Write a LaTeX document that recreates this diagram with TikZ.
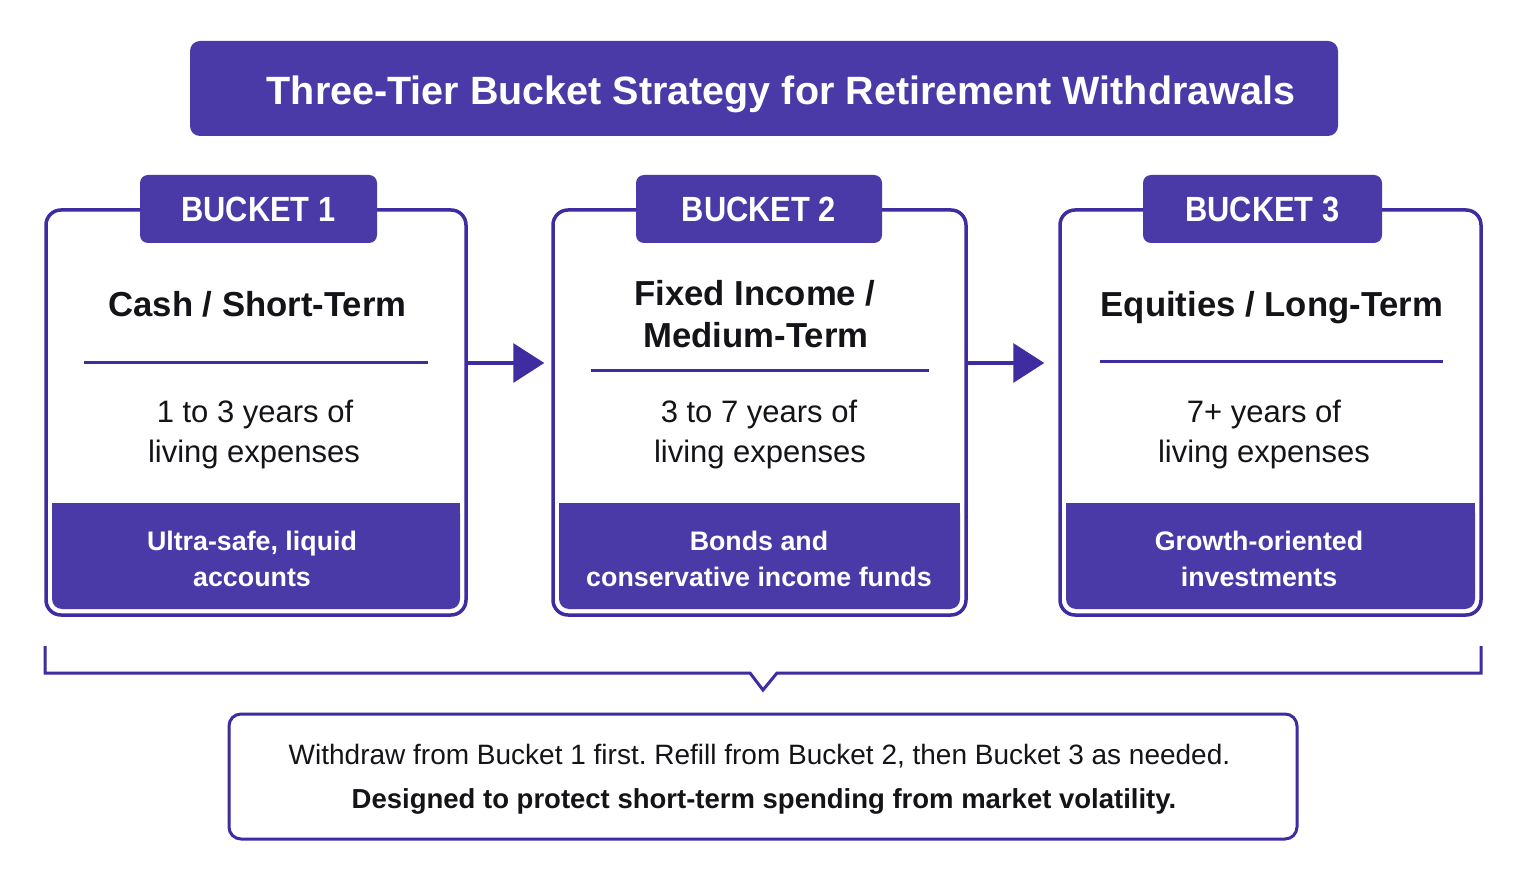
\documentclass[tikz,border=0pt]{standalone}
\usepackage{fontspec}
\setmainfont{Liberation Sans}
\newfontfamily\tabfont[FakeStretch=0.88]{Liberation Sans}
\usetikzlibrary{arrows.meta}
\definecolor{accent}{RGB}{74,58,168}
\definecolor{edge}{RGB}{62,44,160}
\definecolor{ink}{RGB}{20,20,24}
\frenchspacing
\begin{document}
\begin{tikzpicture}[x=1pt,y=-1pt,
  bucketbox/.style={draw=edge, line width=3.5pt, rounded corners=15pt, fill=white,
    minimum height=405pt, inner sep=0pt},
  tabbox/.style={fill=accent, rounded corners=8pt, minimum height=68pt, inner sep=0pt,
    text=white, font=\tabfont\bfseries\fontsize{35}{40}\selectfont},
  fillbox/.style={fill=accent, rounded corners=10pt, minimum height=106pt, inner sep=0pt},
  filltext/.style={text=white, align=center, inner sep=0pt, font=\bfseries\fontsize{26.8}{36}\selectfont},
  heading/.style={font=\bfseries\fontsize{34.7}{42}\selectfont, text=ink, anchor=base, inner sep=0pt},
  bodytext/.style={font=\fontsize{31}{40}\selectfont, text=ink, anchor=base, inner sep=0pt},
  divider/.style={draw=edge, line width=3pt},
  flow/.style={draw=edge, line width=3.5pt, -{Triangle[length=31pt,width=39pt]}},
  bracket/.style={draw=edge, line width=3pt, line join=miter},
  notebox/.style={draw=edge, line width=3pt, rounded corners=12pt, fill=white,
    minimum width=1068pt, minimum height=125pt, inner sep=0pt},
  notetext/.style={text=ink, anchor=base, inner sep=0pt}
]
\useasboundingbox (0,0) rectangle (1524,882);
\fill[white] (0,0) rectangle (1524,882);

% title
\node[fill=accent, rounded corners=10pt, minimum width=1148pt, minimum height=95pt, inner sep=0pt] (titlebox) at (764,88.5) {};
\node[font=\bfseries\fontsize{39.5}{45}\selectfont, text=white, anchor=base, inner sep=0pt] (titletext) at (781,105) {Three-Tier Bucket Strategy for Retirement Withdrawals};

% buckets
\node[bucketbox, minimum width=420pt] (b1) at (256,412.5) {};
\node[bucketbox, minimum width=413pt] (b2) at (759.5,412.5) {};
\node[bucketbox, minimum width=421pt] (b3) at (1270.5,412.5) {};

\node[tabbox, minimum width=237pt] (t1) at (258.5,209) {BUCKET 1};
\node[tabbox, minimum width=246pt] (t2) at (759,209) {BUCKET 2};
\node[tabbox, minimum width=239pt] (t3) at (1262.5,209) {BUCKET 3};

% headings
\node[heading] (h1) at (257.5,316.5) {Cash / Short-Term};
\node[heading] (h2a) at (755,305.5) {Fixed Income /};
\node[heading] (h2b) at (756,347.5) {Medium-Term};
\node[heading] (h3) at (1272,317) {Equities / Long-Term};

% dividers
\draw[divider] (84,363) -- (428,363);
\draw[divider] (591,371) -- (929,371);
\draw[divider] (1100,362) -- (1443,362);

% body text
\node[bodytext] (d1a) at (255,423) {1 to 3 years of};
\node[bodytext] (d1b) at (254,463) {living expenses};
\node[bodytext] (d2a) at (759,423) {3 to 7 years of};
\node[bodytext] (d2b) at (760,463) {living expenses};
\node[bodytext] (d3a) at (1264,423) {7+ years of};
\node[bodytext] (d3b) at (1264,463) {living expenses};

% filled bottoms
\fill[accent] (52,503) rectangle (460,540);
\fill[accent] (559,503) rectangle (960,540);
\fill[accent] (1066,503) rectangle (1475,540);
\node[fillbox, minimum width=408pt] (f1) at (256,556) {};
\node[fillbox, minimum width=401pt] (f2) at (759.5,556) {};
\node[fillbox, minimum width=409pt] (f3) at (1270.5,556) {};
\node[filltext] (ft1) at (252,559) {Ultra-safe, liquid\\accounts};
\node[filltext] (ft2) at (759,559) {Bonds and\\conservative income funds};
\node[filltext] (ft3) at (1259,559) {Growth-oriented\\investments};

% arrows
\draw[flow, shorten >=7pt] ([yshift=49.5pt]b1.east) -- ([yshift=49.5pt]b2.west);
\draw[flow, shorten >=14pt] ([yshift=49.5pt]b2.east) -- ([yshift=49.5pt]b3.west);

% bracket
\coordinate (bl) at (45,646);
\coordinate (br) at (1481,646);
\draw[bracket] (bl) -- (45,673) -- (750,673) -- (763,690) -- (777,673) -- (1481,673) -- (br);

% note
\node[notebox] (note) at (763,776.5) {};
\node[notetext, font=\fontsize{28}{34}\selectfont] (n1) at (759.5,764) {Withdraw from Bucket 1 first. Refill from Bucket 2, then Bucket 3 as needed.};
\node[notetext, font=\bfseries\fontsize{27.5}{34}\selectfont] (n2) at (764,808) {Designed to protect short-term spending from market volatility.};
\end{tikzpicture}
\end{document}
